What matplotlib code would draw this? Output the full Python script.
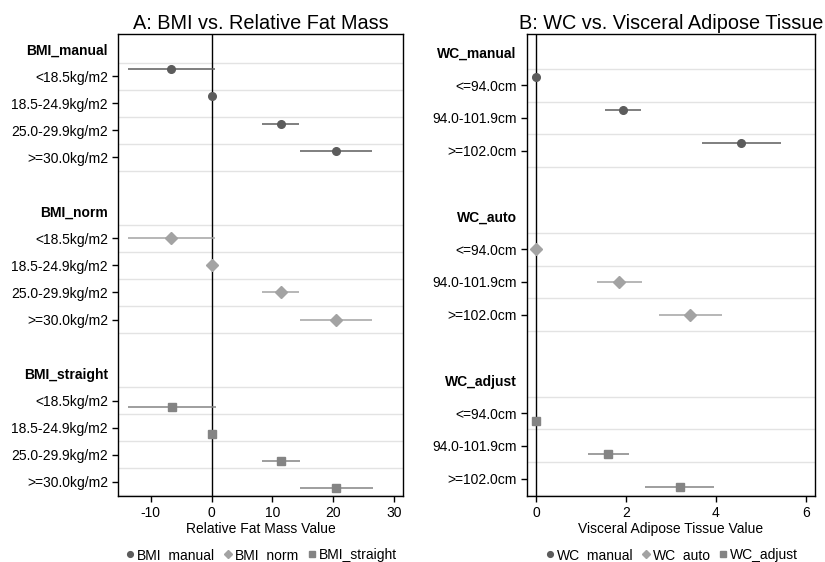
import matplotlib
matplotlib.use('Agg')
import matplotlib.pyplot as plt
from matplotlib.lines import Line2D
import numpy as np

plt.rcParams['font.family'] = ['Liberation Sans', 'DejaVu Sans']
plt.rcParams['axes.unicode_minus'] = False

# panel A data
bmi_cats = ['<18.5kg/m2', '18.5-24.9kg/m2', '25.0-29.9kg/m2', '>=30.0kg/m2']
bmi_series = ['BMI_manual', 'BMI_norm', 'BMI_straight']
bmi_est = [[-6.65, 0.0, 11.35, 20.5],
           [-6.65, 0.0, 11.35, 20.5],
           [-6.55, 0.0, 11.35, 20.5]]
bmi_lo = [[-13.7, 0.0, 8.3, 14.6],
          [-13.7, 0.0, 8.3, 14.6],
          [-13.7, 0.0, 8.3, 14.6]]
bmi_hi = [[0.6, 0.0, 14.4, 26.35],
          [0.6, 0.0, 14.4, 26.35],
          [0.7, 0.0, 14.5, 26.5]]

# panel B data
wc_cats = ['<=94.0cm', '94.0-101.9cm', '>=102.0cm']
wc_series = ['WC_manual', 'WC_auto', 'WC_adjust']
wc_est = [[0.0, 1.94, 4.56],
          [0.0, 1.85, 3.43],
          [0.0, 1.61, 3.19]]
wc_lo = [[0.0, 1.54, 3.70],
         [0.0, 1.36, 2.73],
         [0.0, 1.15, 2.43]]
wc_hi = [[0.0, 2.34, 5.44],
         [0.0, 2.35, 4.13],
         [0.0, 2.07, 3.96]]

colors = ['#5c5c5c', '#a3a3a3', '#848484']
markers = ['o', 'D', 's']
msizes = [5.5, 6.0, 6.3]
offsets = [-0.25, 0, 0.25]


def coef_panel(ax, cats, series, est, lo, hi, xlim, xticks, title, xlabel):
    n = len(cats)
    stride = n + 2
    ticks, labels, headers = [], [], []
    for g, name in enumerate(series):
        base = g * stride
        headers.append(len(ticks))
        ticks.append(base)
        labels.append(name)
        for k, c in enumerate(cats):
            ticks.append(base + k + 1)
            labels.append(c)
        for k in range(n + 1):
            ax.axhline(base + 0.5 + k, color='#e3e3e3', lw=1, zorder=0)
        y = np.arange(n) + base + 1 + offsets[g]
        e = np.array(est[g])
        xerr = [e - np.array(lo[g]), np.array(hi[g]) - e]
        ax.errorbar(e, y, xerr=xerr, fmt=markers[g], color=colors[g],
                    ms=msizes[g], elinewidth=1.1, capsize=0, zorder=3)
    ax.axvline(0, color='black', lw=1, zorder=2)
    ax.set_yticks(ticks)
    ax.set_yticklabels(labels, fontsize=10)
    for i in headers:
        ax.get_yticklabels()[i].set_fontweight('bold')
        t = ax.yaxis.get_major_ticks()[i]
        t.tick1line.set_visible(False)
    ax.set_ylim(len(series) * stride - 1.47, -0.56)
    ax.set_xlim(*xlim)
    ax.set_xticks(xticks)
    ax.tick_params(axis='both', labelsize=10, length=4, width=1, direction='out')
    ax.set_title(title, fontsize=14.3, pad=4)
    ax.set_xlabel(xlabel, fontsize=10, labelpad=1)
    for s in ax.spines.values():
        s.set_linewidth(1)
    handles = [Line2D([], [], ls='none', marker=markers[g], color=colors[g],
                      ms=msizes[g] * 0.75) for g in range(len(series))]
    ax.legend(handles, series, loc='center', bbox_to_anchor=(0.5, -0.128), ncol=3,
              frameon=False, fontsize=10, handletextpad=0.1, columnspacing=0.5,
              handlelength=0.8, borderpad=0)


fig = plt.figure(figsize=(8.25, 5.62), dpi=100)
ax1 = fig.add_axes([0.1436, 0.1174, 0.345, 0.822])
ax2 = fig.add_axes([0.6388, 0.1174, 0.349, 0.822])

coef_panel(ax1, bmi_cats, bmi_series, bmi_est, bmi_lo, bmi_hi, (-15.3, 31.5),
           [-10, 0, 10, 20, 30], 'A: BMI vs. Relative Fat Mass', 'Relative Fat Mass Value')
coef_panel(ax2, wc_cats, wc_series, wc_est, wc_lo, wc_hi, (-0.2, 6.2),
           [0, 2, 4, 6], 'B: WC vs. Visceral Adipose Tissue', 'Visceral Adipose Tissue Value')

plt.savefig('out.png', dpi=100)
